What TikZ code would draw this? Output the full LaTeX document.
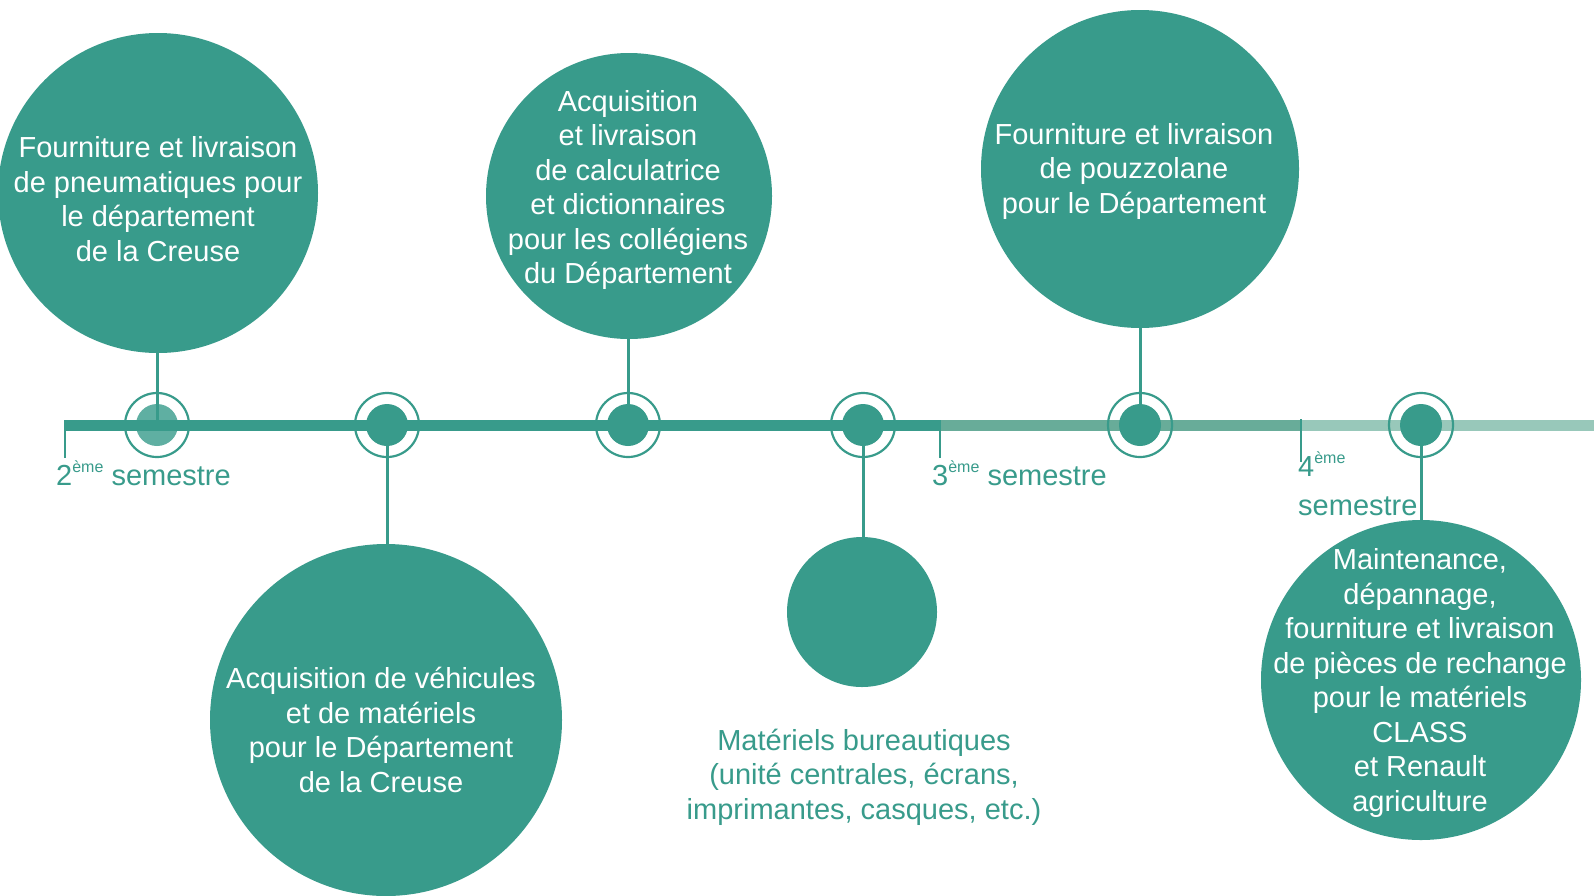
\documentclass[tikz,border=0pt]{standalone}
\usepackage{fontspec}
\setmainfont{Liberation Sans}
\definecolor{tealA}{RGB}{56,155,139}
\definecolor{tealB}{RGB}{104,172,153}
\definecolor{tealC}{RGB}{152,200,186}
\newcommand{\sema}[1]{#1\raisebox{0.42em}{\fontsize{16}{16}\selectfont ème}}
\begin{document}
\begin{tikzpicture}[x=1pt,y=-1pt,
  bigc/.style={circle,fill=tealA,inner sep=0pt,minimum size=#1},
  txt/.style={text=white,align=center,inner sep=0pt,font=\fontsize{29}{34.5}\selectfont},
  lbl/.style={text=tealA,inner sep=0pt,font=\fontsize{29}{34.5}\selectfont},
  stem/.style={draw=tealA,line width=3pt},
  tick/.style={draw=tealA,line width=2pt},
  dot/.style={circle,fill=tealA,inner sep=0pt,minimum size=42pt},
  ring/.style={circle,draw=tealA,line width=2.2pt,inner sep=0pt,minimum size=64pt}]
\useasboundingbox (0,0) rectangle (1594,895);
\fill[white] (0,0) rectangle (1594,895);

% timeline bar
\coordinate (b0) at (65,425);
\coordinate (b1) at (940,425);
\coordinate (b2) at (1301,425);
\coordinate (b3) at (1594,425);
\draw[tealC,line width=11pt] (b2) -- (b3);
\draw[tealB,line width=11pt] (b1) -- (b2);
\draw[tealA,line width=11pt] (b0) -- (b1);

% ticks
\coordinate (t0) at (65,458);
\coordinate (t1) at (940,458);
\coordinate (t2) at (1301,462);
\draw[tick] (65,420) -- (t0);
\draw[tick] (940,420) -- (t1);
\draw[tick] (1301,419) -- (t2);

% big circles
\node[bigc=320pt] (c1) at (158,193) {};
\node[bigc=352pt] (c2) at (386,720) {};
\node[bigc=286pt] (c3) at (629,196) {};
\node[bigc=150pt] (c4) at (862,612) {};
\node[bigc=318pt] (c5) at (1140,169) {};
\node[bigc=320pt] (c6) at (1421,680) {};

% markers positions
\coordinate (m1) at (157,425);
\coordinate (m2) at (387,425);
\coordinate (m3) at (628,425);
\coordinate (m4) at (863,425);
\coordinate (m5) at (1140,425);
\coordinate (m6) at (1421,425);

% stems
\draw[stem] (m1) -- (m1 |- c1.south);
\draw[stem] (m2) -- (m2 |- c2.north);
\draw[stem] (m3) -- (m3 |- c3.south);
\draw[stem] (m4) -- (m4 |- c4.north);
\draw[stem] (m5) -- (m5 |- c5.south);
\draw[stem] (m6) -- (m6 |- c6.north);

% markers
\node[dot,fill opacity=0.8] (d1) at (m1) {};
\node[dot] (d2) at (m2) {};
\node[dot] (d3) at (m3) {};
\node[dot] (d4) at (m4) {};
\node[dot] (d5) at (m5) {};
\node[dot] (d6) at (m6) {};
\node[ring] (r1) at (m1) {};
\node[ring] (r2) at (m2) {};
\node[ring] (r3) at (m3) {};
\node[ring] (r4) at (m4) {};
\node[ring] (r5) at (m5) {};
\node[ring] (r6) at (m6) {};

% circle texts
\node[txt] (x1) at (158,199) {Fourniture et livraison\\de pneumatiques pour\\le département\\de la Creuse};
\node[txt] (x2) at (381,730) {Acquisition de véhicules\\et de matériels\\pour le Département\\de la Creuse};
\node[txt] (x3) at (628,190) {Acquisition\\et livraison\\de calculatrice\\et dictionnaires\\pour les collégiens\\du Département};
\node[txt] (x5) at (1134,171) {Fourniture et livraison\\de pouzzolane\\pour le Département};
\node[txt] (x6) at (1420,683) {Maintenance,\\dépannage,\\fourniture et livraison\\de pièces de rechange\\pour le matériels\\CLASS\\et Renault\\agriculture};

% label under small circle
\node[lbl,align=center] (x4) at (864,777) {Matériels bureautiques\\(unité centrales, écrans,\\imprimantes, casques, etc.)};

% semester labels
\node[lbl,anchor=base west] (s2) at (56,485) {\sema{2} semestre};
\node[lbl,anchor=base west] (s3) at (932,485) {\sema{3} semestre};
\node[lbl,anchor=base west] (s4a) at (1298,476) {\sema{4}};
\node[lbl,anchor=base west] (s4b) at (1298,515) {semestre};
\end{tikzpicture}
\end{document}
